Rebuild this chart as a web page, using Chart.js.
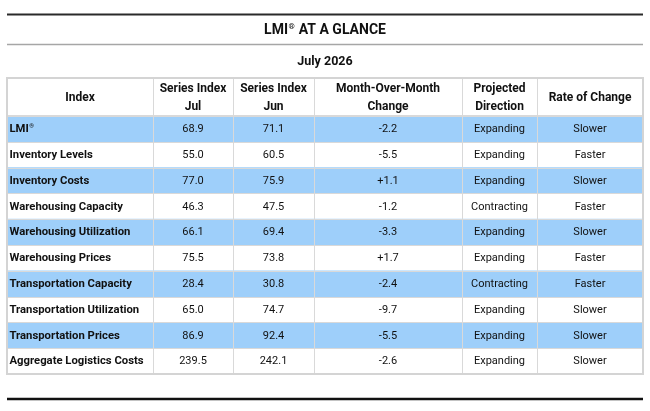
<!DOCTYPE html>
<html>
<head>
<meta charset="utf-8">
<script src="https://cdn.jsdelivr.net/npm/chart.js@4.4.1/dist/chart.umd.min.js"></script>
<style>
  html, body { margin: 0; padding: 0; background: #ffffff; }
  #wrap { width: 650px; height: 411px; }
</style>
</head>
<body>
<div id="wrap"><canvas id="c" width="650" height="411"></canvas></div>
<script>
// ---------- data ----------
const titleText = "LMI\u00AE AT A GLANCE";
const subtitleText = "July 2026";
const headers = [
  ["Index"],
  ["Series Index", "Jul"],
  ["Series Index", "Jun"],
  ["Month-Over-Month", "Change"],
  ["Projected", "Direction"],
  ["Rate of Change"]
];
const indexNames = [
  "LMI\u00AE",
  "Inventory Levels",
  "Inventory Costs",
  "Warehousing Capacity",
  "Warehousing Utilization",
  "Warehousing Prices",
  "Transportation Capacity",
  "Transportation Utilization",
  "Transportation Prices",
  "Aggregate Logistics Costs"
];
const seriesJul = [68.9, 55.0, 77.0, 46.3, 66.1, 75.5, 28.4, 65.0, 86.9, 239.5];
const seriesJun = [71.1, 60.5, 75.9, 47.5, 69.4, 73.8, 30.8, 74.7, 92.4, 242.1];
const momChange = [-2.2, -5.5, 1.1, -1.2, -3.3, 1.7, -2.4, -9.7, -5.5, -2.6];
const direction = ["Expanding", "Expanding", "Expanding", "Contracting", "Expanding",
                   "Expanding", "Contracting", "Expanding", "Expanding", "Expanding"];
const rateOfChange = ["Slower", "Faster", "Slower", "Faster", "Slower",
                      "Faster", "Faster", "Slower", "Slower", "Slower"];

// ---------- layout / style ----------
const COL_EDGES = [0, 146, 226, 307, 455, 530, 636]; // x-scale units
const TABLE_W = COL_EDGES[COL_EDGES.length - 1];
const HEADER_TOP = 78;
const BAND = "#9ECFFA";
const GRID = "#D9D9D9";
const TEXT = "#111111";
const FONT = "Roboto, 'Liberation Sans', Arial, sans-serif";

const fmt1 = v => v.toFixed(1);
const fmtSigned = v => (v > 0 ? "+" : "") + v.toFixed(1);

// draws text, rendering the (R) mark as a small superscript
function drawSupText(ctx, text, x, y, size, weight, align) {
  const parts = text.split("\u00AE");
  const base = weight + " " + size + "px " + FONT;
  const sup = weight + " " + Math.round(size * 0.55) + "px " + FONT;
  ctx.font = base;
  const w0 = ctx.measureText(parts[0]).width;
  const w2 = parts.length > 1 ? ctx.measureText(parts[1]).width : 0;
  ctx.font = sup;
  const w1 = parts.length > 1 ? ctx.measureText("\u00AE").width + 1 : 0;
  const total = w0 + w1 + w2;
  let sx = align === "center" ? x - total / 2 : x;
  ctx.textAlign = "left";
  ctx.font = base;
  ctx.fillText(parts[0], sx, y);
  if (parts.length > 1) {
    ctx.font = sup;
    ctx.fillText("\u00AE", sx + w0 + 0.5, y - size * 0.28);
    ctx.font = base;
    ctx.fillText(parts[1], sx + w0 + w1, y);
  }
}

const tablePlugin = {
  id: "tablePlugin",
  afterDatasetsDraw(chart) {
    const ctx = chart.ctx;
    const xs = chart.scales.x, ys = chart.scales.y;
    const left = xs.getPixelForValue(0), right = xs.getPixelForValue(TABLE_W);
    const top = ys.top, bottom = ys.bottom;
    const n = indexNames.length;
    ctx.save();

    // horizontal grid lines
    ctx.strokeStyle = GRID;
    ctx.lineWidth = 1;
    ctx.beginPath();
    for (let i = 1; i < n; i++) {
      const y = Math.round((ys.getPixelForValue(i - 1) + ys.getPixelForValue(i)) / 2) + 0.5;
      ctx.moveTo(left, y); ctx.lineTo(right, y);
    }
    ctx.stroke();
    // header bottom line
    ctx.lineWidth = 2;
    ctx.beginPath();
    ctx.moveTo(left, top); ctx.lineTo(right, top);
    ctx.stroke();
    // vertical lines
    ctx.lineWidth = 1;
    ctx.beginPath();
    for (let k = 1; k < COL_EDGES.length - 1; k++) {
      const x = Math.round(xs.getPixelForValue(COL_EDGES[k])) + 0.5;
      ctx.moveTo(x, HEADER_TOP); ctx.lineTo(x, bottom);
    }
    ctx.stroke();
    // outer border
    ctx.lineWidth = 2;
    ctx.strokeStyle = "#D4D4D4";
    ctx.strokeRect(left, HEADER_TOP, right - left, bottom - HEADER_TOP);

    // header text
    ctx.fillStyle = TEXT;
    ctx.textAlign = "center";
    ctx.textBaseline = "middle";
    ctx.font = "bold 12px " + FONT;
    const hMid = (HEADER_TOP + top) / 2;
    headers.forEach((lines, k) => {
      const cx = xs.getPixelForValue((COL_EDGES[k] + COL_EDGES[k + 1]) / 2);
      if (lines.length === 1) {
        ctx.fillText(lines[0], cx, hMid + 1);
      } else {
        ctx.fillText(lines[0], cx, hMid - 8);
        ctx.fillText(lines[1], cx, hMid + 10);
      }
    });

    // body text
    for (let i = 0; i < n; i++) {
      const y = ys.getPixelForValue(i) + 0.5;
      drawSupText(ctx, indexNames[i], left + 2.5, y, 11.3, "bold", "left");
      ctx.font = "11px " + FONT;
      ctx.textAlign = "center";
      const vals = [fmt1(seriesJul[i]), fmt1(seriesJun[i]), fmtSigned(momChange[i]), direction[i], rateOfChange[i]];
      vals.forEach((v, j) => {
        const k = j + 1;
        const cx = xs.getPixelForValue((COL_EDGES[k] + COL_EDGES[k + 1]) / 2);
        ctx.fillText(v, cx, y);
      });
    }

    // title area
    ctx.strokeStyle = "#2A2A2A";
    ctx.lineWidth = 2;
    ctx.beginPath(); ctx.moveTo(left, 14.5); ctx.lineTo(right, 14.5); ctx.stroke();
    ctx.strokeStyle = "#A6A6A6";
    ctx.lineWidth = 1.5;
    ctx.beginPath(); ctx.moveTo(left, 44.5); ctx.lineTo(right, 44.5); ctx.stroke();
    ctx.strokeStyle = "#111111";
    ctx.lineWidth = 2.5;
    ctx.beginPath(); ctx.moveTo(left, 399); ctx.lineTo(right, 399); ctx.stroke();

    ctx.fillStyle = TEXT;
    const mid = (left + right) / 2;
    drawSupText(ctx, titleText, mid, 30.5, 14, "bold", "center");
    ctx.textAlign = "center";
    ctx.font = "bold 12.5px " + FONT;
    ctx.fillText(subtitleText, mid, 62);
    ctx.restore();
  }
};

new Chart(document.getElementById("c"), {
  type: "bar",
  data: {
    labels: indexNames,
    datasets: [{
      data: indexNames.map((_, i) => (i % 2 === 0 ? [0, TABLE_W] : null)),
      backgroundColor: BAND,
      borderWidth: 0,
      barPercentage: 1,
      categoryPercentage: 1
    }]
  },
  options: {
    indexAxis: "y",
    responsive: false,
    animation: false,
    devicePixelRatio: 1,
    layout: { padding: { left: 7, right: 7, top: 116, bottom: 37 } },
    plugins: { legend: { display: false }, tooltip: { enabled: false }, title: { display: false } },
    scales: {
      x: { type: "linear", min: 0, max: TABLE_W, display: false },
      y: { type: "category", display: false }
    }
  },
  plugins: [tablePlugin]
});
</script>
</body>
</html>
